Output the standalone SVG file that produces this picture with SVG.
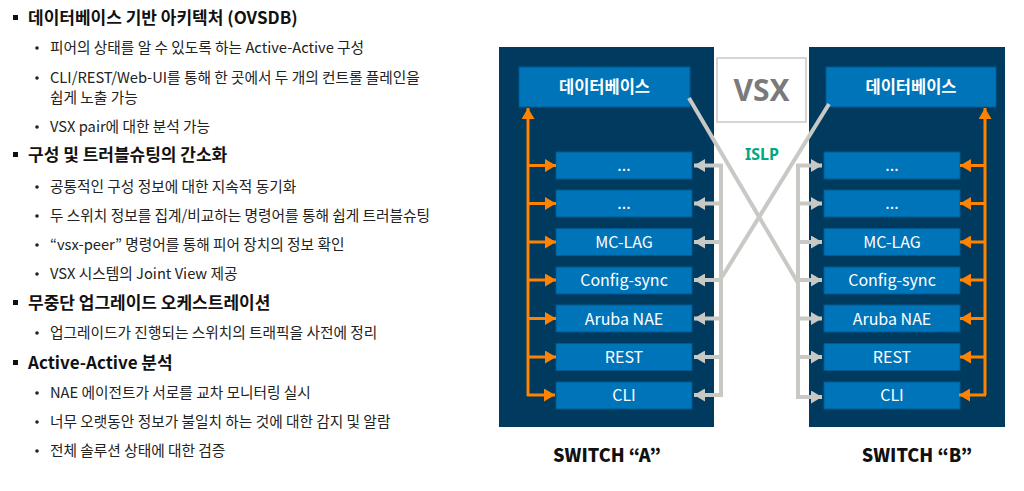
<svg xmlns="http://www.w3.org/2000/svg" width="1024" height="491" viewBox="0 0 1024 491">
<style>
.h{font-family:"Noto Sans CJK KR","Noto Sans",sans-serif;font-weight:700;font-size:17px;fill:#111}
.s{font-family:"Noto Sans CJK KR","Noto Sans",sans-serif;font-size:14.7px;fill:#222}
.panel{fill:#003a5e}
.box{fill:#0074b8;stroke:#005a92;stroke-width:1}
.bl{font-family:"Noto Sans CJK KR","Noto Sans",sans-serif;font-size:16px;fill:#fff;text-anchor:middle}
.bb{font-family:"Noto Sans CJK KR","Noto Sans",sans-serif;font-weight:700;font-size:16.5px;fill:#fff;text-anchor:middle}
.or{stroke:#ff8300;stroke-width:3;fill:none}
.gr{stroke:#c8c8c4;stroke-width:4;fill:none}
.sw{font-family:"Noto Sans CJK KR","Noto Sans",sans-serif;font-weight:900;font-size:18px;fill:#111;text-anchor:middle}
</style>
<defs>
<marker id="ao" markerUnits="userSpaceOnUse" markerWidth="12" markerHeight="13" refX="11" refY="6.5" orient="auto"><path d="M0,0 L11,6.5 L0,13 z" fill="#ff8300"/></marker>
<marker id="ag" markerUnits="userSpaceOnUse" markerWidth="12" markerHeight="13" refX="11" refY="6.5" orient="auto"><path d="M0,0 L11,6.5 L0,13 z" fill="#c8c8c4"/></marker>
</defs>
<rect width="1024" height="491" fill="#fff"/>
<g id="text-list">
<rect x="13" y="15" width="5" height="5" fill="#111"/>
<text class="h" x="28" y="24">데이터베이스 기반 아키텍처 (OVSDB)</text>
<circle cx="37" cy="48" r="1.8" fill="#222"/><text class="s" x="50" y="53">피어의 상태를 알 수 있도록 하는 Active-Active 구성</text>
<circle cx="37" cy="78" r="1.8" fill="#222"/><text class="s" x="50" y="83">CLI/REST/Web-UI를 통해 한 곳에서 두 개의 컨트롤 플레인을</text>
<text class="s" x="50" y="103">쉽게 노출 가능</text>
<circle cx="37" cy="127" r="1.8" fill="#222"/><text class="s" x="50" y="132">VSX pair에 대한 분석 가능</text>
<rect x="13" y="152" width="5" height="5" fill="#111"/>
<text class="h" x="28" y="161">구성 및 트러블슈팅의 간소화</text>
<circle cx="37" cy="187" r="1.8" fill="#222"/><text class="s" x="50" y="192">공통적인 구성 정보에 대한 지속적 동기화</text>
<circle cx="37" cy="216" r="1.8" fill="#222"/><text class="s" x="50" y="221">두 스위치 정보를 집계/비교하는 명령어를 통해 쉽게 트러블슈팅</text>
<circle cx="37" cy="245" r="1.8" fill="#222"/><text class="s" x="50" y="250">“vsx-peer” 명령어를 통해 피어 장치의 정보 확인</text>
<circle cx="37" cy="274" r="1.8" fill="#222"/><text class="s" x="50" y="279">VSX 시스템의 Joint View 제공</text>
<rect x="13" y="300" width="5" height="5" fill="#111"/>
<text class="h" x="28" y="309">무중단 업그레이드 오케스트레이션</text>
<circle cx="37" cy="333" r="1.8" fill="#222"/><text class="s" x="50" y="338">업그레이드가 진행되는 스위치의 트래픽을 사전에 정리</text>
<rect x="13" y="360" width="5" height="5" fill="#111"/>
<text class="h" x="28" y="369">Active-Active 분석</text>
<circle cx="37" cy="393" r="1.8" fill="#222"/><text class="s" x="50" y="398">NAE 에이전트가 서로를 교차 모니터링 실시</text>
<circle cx="37" cy="422" r="1.8" fill="#222"/><text class="s" x="50" y="427">너무 오랫동안 정보가 불일치 하는 것에 대한 감지 및 알람</text>
<circle cx="37" cy="451" r="1.8" fill="#222"/><text class="s" x="50" y="456">전체 솔루션 상태에 대한 검증</text>
</g>
<g id="switch-a">
<rect class="panel" x="499" y="47" width="215" height="380"/>
<rect class="box" x="519" y="67" width="171" height="40"/><text class="bb" x="604.5" y="92.5">데이터베이스</text>
<rect class="box" x="556" y="152" width="136" height="27"/><text class="bl" x="624" y="171">...</text>
<rect class="box" x="556" y="190" width="136" height="27"/><text class="bl" x="624" y="209">...</text>
<rect class="box" x="556" y="228.5" width="136" height="27"/><text class="bl" x="624" y="248">MC-LAG</text>
<rect class="box" x="556" y="267" width="136" height="27"/><text class="bl" x="624" y="286">Config-sync</text>
<rect class="box" x="556" y="305" width="136" height="27"/><text class="bl" x="624" y="324.5">Aruba NAE</text>
<rect class="box" x="556" y="343.5" width="136" height="27"/><text class="bl" x="624" y="363">REST</text>
<rect class="box" x="556" y="382" width="136" height="27"/><text class="bl" x="624" y="401">CLI</text>
<text class="sw" x="607" y="462">SWITCH “A”</text>
</g>
<g id="switch-b">
<rect class="panel" x="809" y="47" width="196" height="380"/>
<rect class="box" x="826" y="67" width="170" height="40"/><text class="bb" x="911" y="92.5">데이터베이스</text>
<rect class="box" x="824" y="152" width="136" height="27"/><text class="bl" x="892" y="171">...</text>
<rect class="box" x="824" y="190" width="136" height="27"/><text class="bl" x="892" y="209">...</text>
<rect class="box" x="824" y="228.5" width="136" height="27"/><text class="bl" x="892" y="248">MC-LAG</text>
<rect class="box" x="824" y="267" width="136" height="27"/><text class="bl" x="892" y="286">Config-sync</text>
<rect class="box" x="824" y="305" width="136" height="27"/><text class="bl" x="892" y="324.5">Aruba NAE</text>
<rect class="box" x="824" y="343.5" width="136" height="27"/><text class="bl" x="892" y="363">REST</text>
<rect class="box" x="824" y="382" width="136" height="27"/><text class="bl" x="892" y="401">CLI</text>
<text class="sw" x="917" y="462">SWITCH “B”</text>
</g>
<g id="vsx">
<rect x="717" y="58" width="89" height="64" fill="#fff" stroke="#c8c8c8" stroke-width="1.5"/>
<text x="761.5" y="101" font-family="'Noto Sans','Liberation Sans',sans-serif" font-weight="700" font-size="30" fill="#7a7a7a" text-anchor="middle">VSX</text>
<text x="762" y="160" font-family="'Noto Sans','Liberation Sans',sans-serif" font-weight="700" font-size="16" fill="#01a982" text-anchor="middle">ISLP</text>
</g>
<g id="connectors">
<path class="gr" d="M689,98 L798,283"/>
<path class="gr" d="M829,104 L722,277"/>
<path class="gr" d="M721,165.5 V395"/>
<path class="gr" d="M723,165.5 H694" marker-end="url(#ag)"/>
<path class="gr" d="M723,203.5 H694" marker-end="url(#ag)"/>
<path class="gr" d="M723,242 H694" marker-end="url(#ag)"/>
<path class="gr" d="M723,280 H694" marker-end="url(#ag)"/>
<path class="gr" d="M723,318.5 H694" marker-end="url(#ag)"/>
<path class="gr" d="M723,357 H694" marker-end="url(#ag)"/>
<path class="gr" d="M723,395 H694" marker-end="url(#ag)"/>
<path class="gr" d="M798,165.5 V397"/>
<path class="gr" d="M796,165.5 H822" marker-end="url(#ag)"/>
<path class="gr" d="M796,203.5 H822" marker-end="url(#ag)"/>
<path class="gr" d="M796,242 H822" marker-end="url(#ag)"/>
<path class="gr" d="M796,280 H822" marker-end="url(#ag)"/>
<path class="gr" d="M796,318.5 H822" marker-end="url(#ag)"/>
<path class="gr" d="M796,357 H822" marker-end="url(#ag)"/>
<path class="gr" d="M796,397 H822" marker-end="url(#ag)"/>
<path class="or" d="M528,396 V108" marker-end="url(#ao)"/>
<path class="or" d="M527,165.5 H556" marker-end="url(#ao)"/>
<path class="or" d="M527,203.5 H556" marker-end="url(#ao)"/>
<path class="or" d="M527,242 H556" marker-end="url(#ao)"/>
<path class="or" d="M527,280 H556" marker-end="url(#ao)"/>
<path class="or" d="M527,318.5 H556" marker-end="url(#ao)"/>
<path class="or" d="M527,357 H556" marker-end="url(#ao)"/>
<path class="or" d="M527,395 H555" marker-end="url(#ao)"/>
<path class="or" d="M985,395 V108" marker-end="url(#ao)"/>
<path class="or" d="M986,165.5 H960" marker-end="url(#ao)"/>
<path class="or" d="M986,203.5 H960" marker-end="url(#ao)"/>
<path class="or" d="M986,242 H960" marker-end="url(#ao)"/>
<path class="or" d="M986,280 H960" marker-end="url(#ao)"/>
<path class="or" d="M986,318.5 H960" marker-end="url(#ao)"/>
<path class="or" d="M986,357 H960" marker-end="url(#ao)"/>
<path class="or" d="M986,395 H959" marker-end="url(#ao)"/>
</g>
</svg>
